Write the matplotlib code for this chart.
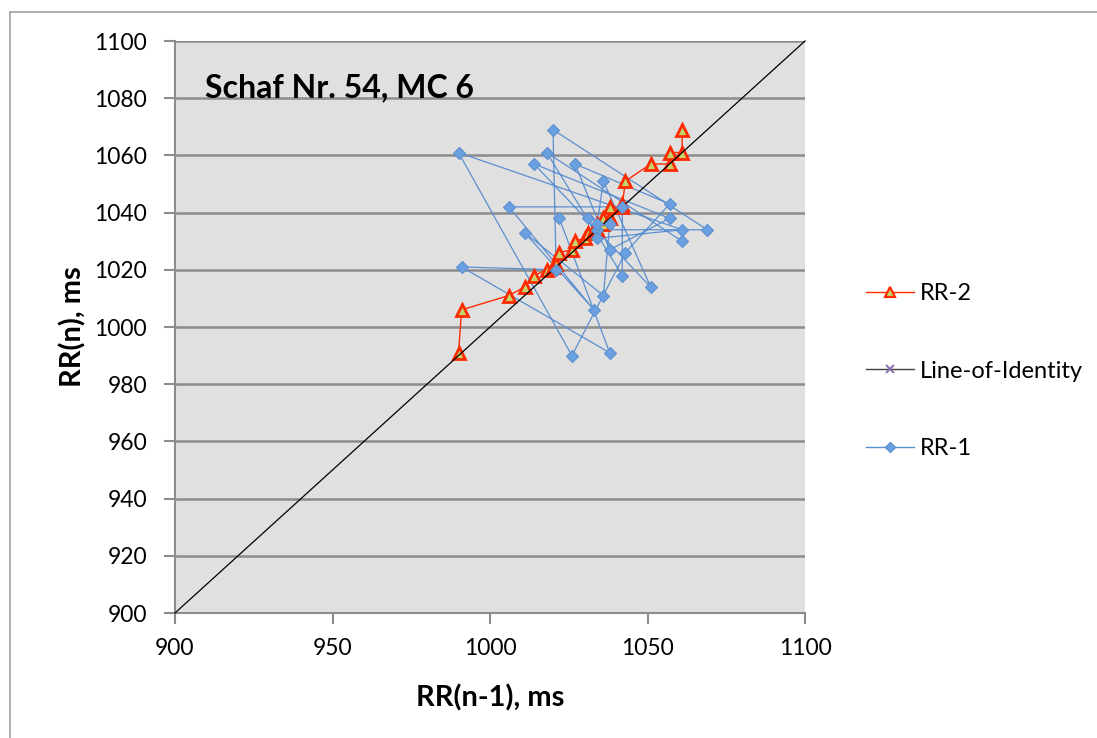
import matplotlib
matplotlib.use("Agg")
import matplotlib.pyplot as plt
from matplotlib.lines import Line2D

# ---- data ----
rr1_x = [1022, 1038, 991, 1021, 1020, 1069, 1034, 1034, 1036, 1051, 1014, 1057, 1038, 1027, 1057,
         1043, 1026, 990, 1061, 1034, 1031, 1038, 1036, 1011, 1033, 1006, 1042, 1042, 1018, 1061]
rr1_y = [1038, 991, 1021, 1020, 1069, 1034, 1034, 1036, 1051, 1014, 1057, 1038, 1027, 1057, 1043,
         1026, 990, 1061, 1034, 1031, 1038, 1036, 1011, 1033, 1006, 1042, 1042, 1018, 1061, 1030]

rr2_x = [990, 991, 1006, 1011, 1014, 1018, 1020, 1021, 1022, 1026, 1027, 1030, 1031, 1033, 1034,
         1034, 1034, 1036, 1036, 1038, 1038, 1038, 1042, 1042, 1043, 1051, 1057, 1057, 1061, 1061]
rr2_y = [991, 1006, 1011, 1014, 1018, 1020, 1021, 1022, 1026, 1027, 1030, 1031, 1033, 1034, 1034,
         1034, 1036, 1036, 1038, 1038, 1038, 1042, 1042, 1043, 1051, 1057, 1057, 1061, 1061, 1069]

identity_x = [900, 1100]
identity_y = [900, 1100]

x_ticks = [900, 950, 1000, 1050, 1100]
y_ticks = [900, 920, 940, 960, 980, 1000, 1020, 1040, 1060, 1080, 1100]

title = "Schaf Nr. 54, MC 6"
xlabel = "RR(n-1), ms"
ylabel = "RR(n), ms"

# ---- style ----
plt.rcParams['font.family'] = ['Lato', 'DejaVu Sans']

W, H = 1097, 738
fig = plt.figure(figsize=(W / 100, H / 100), dpi=100)
ax = fig.add_axes([175 / W, 1 - 613 / H, 630 / W, 572 / H])

ax.set_facecolor('#e0e0e0')
ax.set_xlim(900, 1100)
ax.set_ylim(900, 1100)
ax.set_xticks(x_ticks)
ax.set_yticks(y_ticks)
ax.tick_params(axis='both', labelsize=16.5, colors='#8c8c8c', labelcolor='black',
               length=8, width=1.5, direction='out')
ax.tick_params(axis='y', pad=12)
ax.tick_params(axis='x', pad=10)
ax.yaxis.grid(True, color='#8c8c8c', linewidth=1.8)
ax.set_axisbelow(True)
for s in ['top', 'right']:
    ax.spines[s].set_visible(False)
for s in ['left', 'bottom']:
    ax.spines[s].set_color('#8c8c8c')
    ax.spines[s].set_linewidth(1.5)

red = '#ff2a00'
tri_fill = '#c4d46a'
blue_line = '#5b8fd0'
blue_fill = '#6a9fe0'

# RR-1 lines
ax.plot(rr1_x, rr1_y, color=blue_line, linewidth=0.9, zorder=2)
# RR-2
ax.plot(rr2_x, rr2_y, color=red, linewidth=1.0, marker='^', markersize=9,
        markerfacecolor=tri_fill, markeredgecolor=red, markeredgewidth=2.0, zorder=3)
# identity
ax.plot(identity_x, identity_y, color='black', linewidth=0.9, zorder=3.5, clip_on=False)
# RR-1 markers
ax.plot(rr1_x, rr1_y, linestyle='none', marker='D', markersize=6.5,
        markerfacecolor=blue_fill, markeredgecolor=blue_line, markeredgewidth=0.8, zorder=4)

ax.text((205 - 175) / 630, 1 - (88 - 41) / 572, title, fontsize=23, fontweight='bold',
        ha='left', va='center', transform=ax.transAxes, zorder=5)
ax.set_xlabel(xlabel, fontsize=21, fontweight='bold', labelpad=18)
ax.set_ylabel(ylabel, fontsize=21, fontweight='bold', labelpad=6)

# legend
handles = [
    Line2D([], [], color=red, linewidth=1.0, marker='^', markersize=7,
           markerfacecolor=tri_fill, markeredgecolor=red, markeredgewidth=1.6),
    Line2D([], [], color='#404040', linewidth=1.0, marker='x', markersize=6,
           markeredgecolor='#8a70b0', markeredgewidth=1.4),
    Line2D([], [], color=blue_line, linewidth=1.0, marker='D', markersize=5,
           markerfacecolor=blue_fill, markeredgecolor=blue_line),
]
labels = ['RR-2', 'Line-of-Identity', 'RR-1']
fig.legend(handles, labels, loc='center left', bbox_to_anchor=(866 / W, 1 - 371 / H),
           frameon=False, fontsize=17, handlelength=2.05, handletextpad=0.25,
           labelspacing=2.4, borderpad=0, borderaxespad=0)

# outer frame (left and top)
fig.add_artist(Line2D([10 / W, 10 / W], [0, 1 - 12 / H], color='#a0a0a0', linewidth=1.2,
                      transform=fig.transFigure))
fig.add_artist(Line2D([10 / W, 1], [1 - 12 / H, 1 - 12 / H], color='#a0a0a0', linewidth=1.2,
                      transform=fig.transFigure))

fig.savefig('out.png', dpi=100)
